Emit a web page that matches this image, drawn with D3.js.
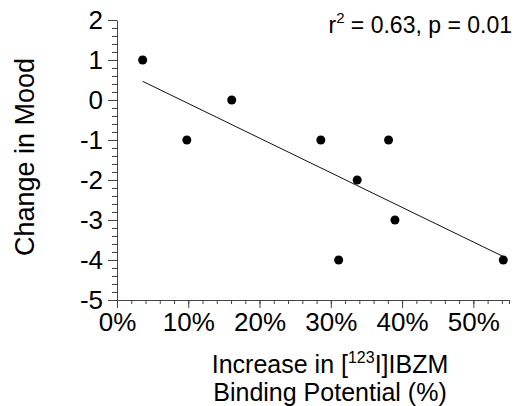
<!DOCTYPE html>
<html>
<head>
<meta charset="utf-8">
<script src="https://cdn.jsdelivr.net/npm/d3@7"></script>
<style>
  body { margin: 0; background: #fff; }
  svg text { font-family: "Liberation Sans", Arial, Helvetica, sans-serif; fill: #000; }
  .axis path, .axis line { stroke: #444; }
</style>
</head>
<body>
<div id="chart"></div>
<script>
// Data: % increase in binding potential vs change in mood
const bindingIncrease = [3.6, 9.8, 16.1, 28.6, 38.1, 33.7, 39.0, 31.1, 54.2];
const moodChange = [1, -1, 0, -1, -1, -2, -3, -4, -4];
const xTicks = [0, 10, 20, 30, 40, 50];
const yTicks = [-5, -4, -3, -2, -1, 0, 1, 2];

const points = bindingIncrease.map((x, i) => ({ x: x, y: moodChange[i] }));

const width = 520;
const height = 406;

const svg = d3.select("#chart")
    .append("svg")
    .attr("width", width)
    .attr("height", height);

// Scales
const xScale = d3.scaleLinear().domain([0, 55]).range([117, 509]);
const yScale = d3.scaleLinear().domain([-5, 2]).range([300, 20]);

// Minor ticks
svg.append("g")
    .attr("class", "axis")
    .attr("transform", "translate(117,0)")
    .call(d3.axisLeft(yScale).tickValues(d3.range(-5, 2.01, 0.2)).tickSize(5).tickFormat(""))
    .call(g => g.select(".domain").remove());

svg.append("g")
    .attr("class", "axis")
    .attr("transform", "translate(0,300)")
    .call(d3.axisBottom(xScale).tickValues(d3.range(0, 55, 2).concat([55])).tickSize(4).tickFormat(""))
    .call(g => g.select(".domain").remove());

// Major axes
const yAxis = svg.append("g")
    .attr("class", "axis")
    .attr("transform", "translate(117,0)")
    .call(d3.axisLeft(yScale).tickValues(yTicks).tickSize(9).tickSizeOuter(0).tickPadding(5)
        .tickFormat(d => String(d)));
yAxis.selectAll("text").style("font-size", "26px");

const xAxis = svg.append("g")
    .attr("class", "axis")
    .attr("transform", "translate(0,300)")
    .call(d3.axisBottom(xScale).tickValues(xTicks).tickSize(8).tickSizeOuter(0).tickPadding(5)
        .tickFormat(d => d + "%"));
xAxis.selectAll("text").style("font-size", "26px");

// Regression line (least squares)
const mx = d3.mean(points, d => d.x);
const my = d3.mean(points, d => d.y);
const slope = d3.sum(points, d => (d.x - mx) * (d.y - my)) / d3.sum(points, d => (d.x - mx) ** 2);
const intercept = my - slope * mx;
const xExt = d3.extent(points, d => d.x);

svg.append("line")
    .attr("x1", xScale(xExt[0]))
    .attr("y1", yScale(intercept + slope * xExt[0]))
    .attr("x2", xScale(xExt[1]))
    .attr("y2", yScale(intercept + slope * xExt[1]))
    .attr("stroke", "#111")
    .attr("stroke-width", 1);

// Points
svg.selectAll(".point")
    .data(points)
    .enter()
    .append("circle")
    .attr("class", "point")
    .attr("cx", d => xScale(d.x))
    .attr("cy", d => yScale(d.y))
    .attr("r", 4.5)
    .attr("fill", "#000");

// Statistics annotation
const stat = svg.append("text")
    .attr("x", 512)
    .attr("y", 33)
    .attr("text-anchor", "end")
    .style("font-size", "23px");
stat.append("tspan").text("r");
stat.append("tspan").attr("dy", -10).style("font-size", "15px").text("2");
stat.append("tspan").attr("dy", 10).text(" = 0.63, p = 0.01");

// Y axis title
svg.append("text")
    .attr("transform", "translate(34,157) rotate(-90)")
    .attr("text-anchor", "middle")
    .style("font-size", "27px")
    .text("Change in Mood");

// X axis title (two lines)
const xt = svg.append("text")
    .attr("text-anchor", "middle")
    .style("font-size", "25px");
xt.append("tspan").attr("x", 330).attr("y", 373).text("Increase in [");
xt.append("tspan").attr("dy", -10).style("font-size", "16px").text("123");
xt.append("tspan").attr("dy", 10).text("I]IBZM");
xt.append("tspan").attr("x", 330).attr("y", 401).text("Binding Potential (%)");
</script>
</body>
</html>
